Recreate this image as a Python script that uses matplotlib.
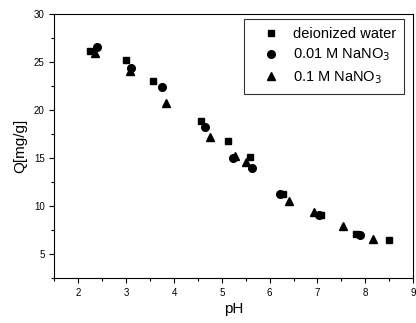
import matplotlib
matplotlib.use('Agg')
import matplotlib.pyplot as plt
from matplotlib.ticker import MultipleLocator

plt.rcParams['font.family'] = ['Liberation Sans', 'DejaVu Sans']

# deionized water
ph_water = [2.24, 3.0, 3.55, 4.57, 5.12, 5.58, 6.27, 7.08, 7.81, 8.49]
q_water = [26.2, 25.2, 23.0, 18.9, 16.8, 15.1, 11.3, 9.06, 7.1, 6.5]

# 0.01 M NaNO3
ph_001 = [2.39, 3.1, 3.75, 4.64, 5.24, 5.63, 6.22, 7.04, 7.88]
q_001 = [26.6, 24.4, 22.4, 18.3, 15.0, 14.0, 11.3, 9.1, 7.05]

# 0.1 M NaNO3
ph_01 = [2.35, 3.08, 3.83, 4.75, 5.28, 5.5, 6.4, 6.92, 7.54, 8.17]
q_01 = [26.0, 24.1, 20.8, 17.2, 15.2, 14.6, 10.55, 9.45, 7.95, 6.56]

fig = plt.figure(figsize=(4.16, 3.23), dpi=100)
ax = fig.add_axes([0.131, 0.138, 0.862, 0.818])

ax.plot(ph_water, q_water, 's', color='black', ms=5, label='deionized water')
ax.plot(ph_001, q_001, 'o', color='black', ms=5.5, label='0.01 M NaNO$_3$')
ax.plot(ph_01, q_01, '^', color='black', ms=6, label='0.1 M NaNO$_3$')

ax.set_xlim(1.5, 9)
ax.set_ylim(2.5, 30)
ax.xaxis.set_major_locator(MultipleLocator(1))
ax.xaxis.set_minor_locator(MultipleLocator(0.5))
ax.yaxis.set_major_locator(MultipleLocator(5))
ax.yaxis.set_minor_locator(MultipleLocator(2.5))
ax.tick_params(which='both', direction='out', labelsize=7, width=0.8)
ax.tick_params(which='major', length=3.5)
ax.tick_params(which='minor', length=2)

ax.set_xlabel('pH', fontsize=11, labelpad=3)
ax.set_ylabel('Q[mg/g]', fontsize=11, labelpad=5)

leg = ax.legend(loc='upper right', fontsize=10.5, frameon=True, fancybox=False,
                edgecolor='black', borderpad=0.55, handlelength=2.6,
                handletextpad=0.2, labelspacing=0.38,
                bbox_to_anchor=(0.975, 0.981), borderaxespad=0)
leg.get_frame().set_linewidth(0.8)

fig.savefig('out.png', dpi=100)
